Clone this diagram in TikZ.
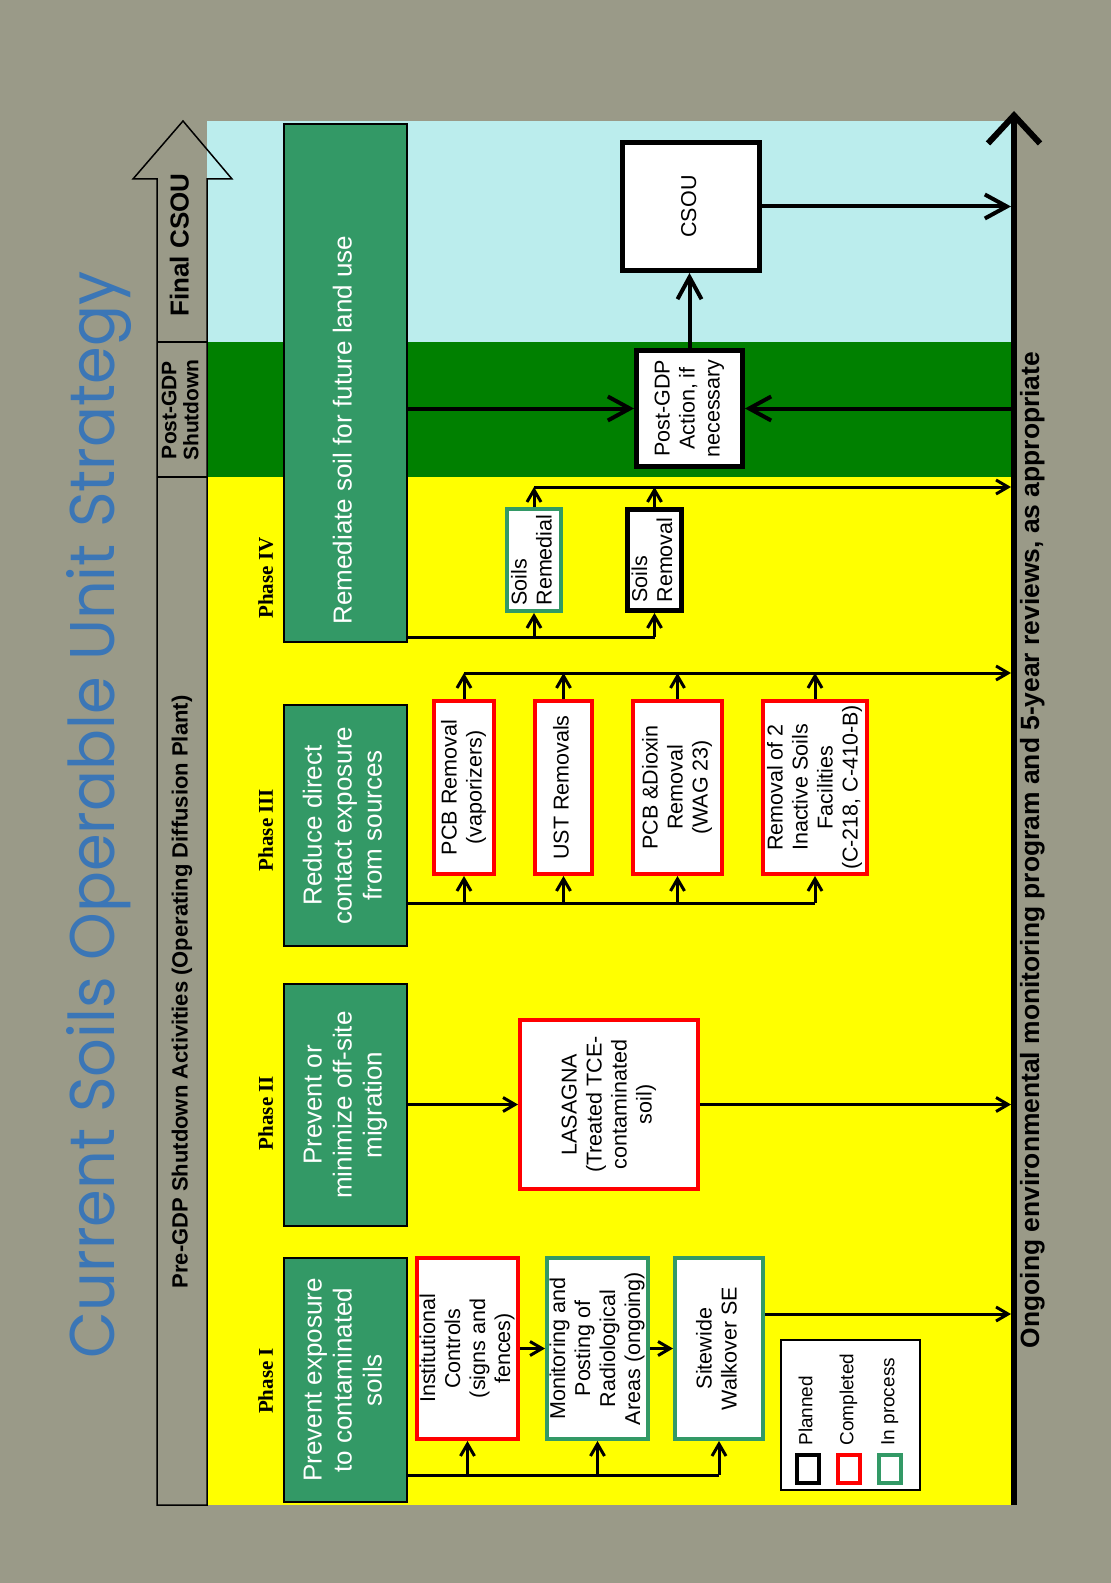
\documentclass[tikz,border=0pt]{standalone}
\usepackage{fontspec}
\setmainfont{Liberation Sans}
\newfontfamily\serifb{Liberation Serif}
\newfontfamily\titlefont{Poppins}
\usetikzlibrary{arrows.meta,calc}
\definecolor{bgg}{RGB}{154,154,136}
\definecolor{sky}{RGB}{187,237,237}
\definecolor{dgreen}{RGB}{0,128,0}
\definecolor{bgreen}{RGB}{51,153,102}
\definecolor{tblue}{RGB}{59,118,182}
\definecolor{yel}{RGB}{255,255,0}
\newcommand{\rt}[2][c]{\rotatebox{90}{\begin{tabular}{@{}#1@{}}#2\end{tabular}}}
% \bx{name}{style}{x1}{y1}{x2}{y2}{text}
\newcommand{\bx}[7]{\node[#2, minimum width={(#5-#3)*0.5pt}, minimum height={(#6-#4)*0.5pt}] (#1) at ({(#3+#5)/2},{(#4+#6)/2}) {#7};}
\tikzset{
  phasebox/.style={draw=black, line width=1pt, fill=bgreen, text=white, inner sep=0pt, font=\fontsize{13}{15}\selectfont},
  phasetxt/.style={text=white, inner sep=0pt, font=\fontsize{13}{15}\selectfont},
  wbox/.style={fill=white, line width=2pt, inner sep=0pt, font=\fontsize{10.75}{12.5}\selectfont},
  redbox/.style={wbox, draw=red},
  grnbox/.style={wbox, draw=bgreen},
  blkbox/.style={wbox, draw=black, line width=2.5pt},
  phaselbl/.style={inner sep=0pt, font=\serifb\bfseries\fontsize{10.5}{12}\selectfont},
  bandtxt/.style={inner sep=0pt, font=\bfseries\fontsize{11}{11.5}\selectfont},
  legtxt/.style={inner sep=0pt, font=\fontsize{9.5}{11}\selectfont},
  legsq/.style={fill=white, line width=2pt, inner sep=0pt},
  conn/.style={line width=1.5pt},
  arr/.style={conn, -{Straight Barb[length=6pt,width=7pt]}},
  bigarr/.style={line width=2pt, -{Straight Barb[length=11pt,width=12pt]}},
}
\begin{document}
\begin{tikzpicture}[x=0.5pt,y=-0.5pt]
\fill[bgg] (0,0) rectangle (1111,1583);
\useasboundingbox (0,0) rectangle (1111,1583);
% colour bands
\fill[sky] (207,121) rectangle (1014,342);
\fill[dgreen] (207,342) rectangle (1014,477);
\fill[yel] (207,477) rectangle (1014,1505);
% left band with arrow
\draw[line width=0.75pt] (157,1505) -- (157,179) -- (133,179) -- (183,121) -- (232,179) -- (207,179) -- (207,1505) -- cycle;
\draw[line width=0.75pt] (157,342) -- (207,342) (157,477) -- (207,477);
\node[bandtxt, font=\bfseries\fontsize{13}{14}\selectfont] (finalt) at (183,245) {\rt{Final CSOU}};
\node[bandtxt, font=\bfseries\fontsize{10.5}{11}\selectfont] (postt) at (183,410) {\rt{Post-GDP\\Shutdown}};
\node[bandtxt] (pret) at (183,992) {\rt{Pre-GDP Shutdown Activities (Operating Diffusion Plant)}};
% title
\node[text=tblue, inner sep=0pt] (title) at (99,815) {\rotatebox{90}{\resizebox{543pt}{24pt}{\titlefont Current Soils Operable Unit Strategy}}};
% axis
\coordinate (axbot) at (1014,1505);
\coordinate (axtop) at (1014,111);
\coordinate (axl) at (1011,0);
\draw[line width=3pt, -{Straight Barb[length=14pt,width=26pt]}] (axbot) -- (axtop);
\node[inner sep=0pt, font=\bfseries\fontsize{13.2}{15}\selectfont] (axtxt) at (1033,850) {\rt{Ongoing environmental monitoring program and 5-year reviews, as appropriate}};
% phase labels
\node[phaselbl] (ph4) at (268,578) {\rt{Phase IV}};
\node[phaselbl] (ph3) at (268,830) {\rt{Phase III}};
\node[phaselbl] (ph2) at (268,1113) {\rt{Phase II}};
\node[phaselbl] (ph1) at (268,1381) {\rt{Phase I}};
% phase boxes
\bx{p4}{phasebox}{284}{124}{407}{642}{}
\node[phasetxt] (p4t) at (345.5,430) {\rt{Remediate soil for future land use}};
\bx{p3}{phasebox}{284}{705}{407}{946}{\rt{Reduce direct\\contact exposure\\from sources}}
\bx{p2}{phasebox}{284}{984}{407}{1226}{\rt{Prevent or\\minimize off-site\\migration}}
\bx{p1}{phasebox}{284}{1258}{407}{1502}{\rt{Prevent exposure\\to contaminated\\soils}}
% phase I boxes
\bx{ic}{redbox}{417}{1258}{518}{1439}{\rt{Institutional\\Controls\\(signs and\\fences)}}
\bx{mon}{grnbox}{547}{1258}{648}{1439}{\rt{Monitoring and\\Posting of\\Radiological\\Areas (ongoing)}}
\bx{walk}{grnbox}{675}{1258}{763}{1439}{\rt{Sitewide\\Walkover SE}}
% phase II box
\bx{las}{redbox}{520}{1020}{698}{1189}{\rt{LASAGNA\\(Treated TCE-\\contaminated\\soil)}}
% phase III boxes
\bx{pcb}{redbox}{434}{701}{494}{874}{\rt{PCB Removal\\(vaporizers)}}
\bx{ust}{redbox}{535}{701}{592}{874}{\rt{UST Removals}}
\bx{dio}{redbox}{633}{701}{722}{874}{\rt{PCB \&Dioxin\\Removal\\(WAG 23)}}
\bx{rem2}{redbox}{763}{701}{867}{874}{\rt{Removal of 2\\Inactive Soils\\Facilities\\(C-218, C-410-B)}}
% phase IV boxes
\bx{srem}{grnbox}{507}{509}{561}{611}{\rt[l]{Soils\\Remedial}}
\bx{srmv}{blkbox}{627.5}{509.5}{681.5}{610.5}{\rt[l]{Soils\\Removal}}
\bx{post}{blkbox}{636.5}{350.5}{742.5}{466.5}{\rt{Post-GDP\\Action, if\\necessary}}
\bx{csou}{blkbox}{622.5}{142.5}{759.5}{270.5}{\rt{CSOU}}
% legend
\bx{legend}{draw=black, fill=white, line width=0.75pt, inner sep=0pt}{781}{1340}{920}{1490}{}
\bx{lsqk}{legsq, draw=black}{797}{1455}{819}{1483}{}
\bx{lsqr}{legsq, draw=red}{838}{1455}{860}{1483}{}
\bx{lsqg}{legsq, draw=bgreen}{879}{1455}{901}{1483}{}
\node[legtxt, anchor=south] (lpl) at (lsqk.north |- 0,1446) {\rt{Planned}};
\node[legtxt, anchor=south] (lco) at (lsqr.north |- 0,1446) {\rt{Completed}};
\node[legtxt, anchor=south] (lin) at (lsqg.north |- 0,1446) {\rt{In process}};
% Phase I connectors
\coordinate (b1) at (719,1475);
\draw[conn] (p1.east |- b1) -- (b1);
\draw[arr] (ic.south |- b1) -- (ic.south);
\draw[arr] (mon.south |- b1) -- (mon.south);
\draw[arr] (walk.south |- b1) -- (walk.south);
\draw[arr] (ic.east) -- (ic.east -| mon.west);
\draw[arr] (mon.east) -- (mon.east -| walk.west);
\coordinate (w1) at (765,1314);
\draw[arr] (walk.east |- w1) -- (axl |- w1);
% Phase II connectors
\draw[arr] (p2.east |- las.west) -- (las.west);
\draw[arr] (las.east) -- (las.east -| axl);
% Phase III connectors
\coordinate (b3) at (0,903);
\coordinate (t3) at (0,673);
\draw[conn] (p3.east |- b3) -- (rem2.south |- b3);
\foreach \n in {pcb,ust,dio,rem2}{
  \draw[arr] (\n.south |- b3) -- (\n.south);
  \draw[arr] (\n.north) -- (\n.north |- t3);
}
\draw[arr] (pcb.north |- t3) -- (axl |- t3);
% Phase IV connectors
\coordinate (b4) at (0,637);
\coordinate (t4) at (0,487);
\draw[conn] (p4.east |- b4) -- (srmv.south |- b4);
\foreach \n in {srem,srmv}{
  \draw[arr] (\n.south |- b4) -- (\n.south);
  \draw[arr] (\n.north) -- (\n.north |- t4);
}
\draw[arr] (srem.north |- t4) -- (axl |- t4);
% post-GDP connectors
\draw[bigarr] (p4.east |- post.west) -- (post.west);
\draw[bigarr] (axl |- post.east) -- (post.east);
\draw[bigarr] (post.north) -- (post.north |- csou.south);
\draw[bigarr] (csou.east) -- (csou.east -| axl);
\end{tikzpicture}
\end{document}
